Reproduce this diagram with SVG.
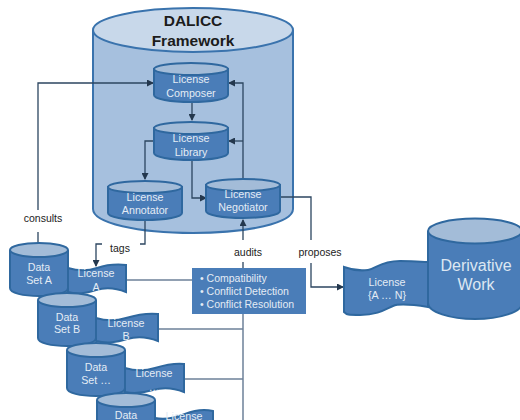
<svg xmlns="http://www.w3.org/2000/svg" width="520" height="420" viewBox="0 0 520 420">
<style>
.c{fill:#4a7db8;stroke:#2f689f;stroke-width:2}
.t{fill:#a3bcd8;stroke:#2f689f;stroke-width:2}
.w{fill:#e4ecf5;font-family:"Liberation Sans",Arial,sans-serif;font-size:10.7px;text-anchor:middle}
.b{fill:#e4ecf5;font-family:"Liberation Sans",Arial,sans-serif;font-size:10.5px}
.k{fill:#222;font-family:"Liberation Sans",Arial,sans-serif;font-size:10.5px;text-anchor:middle}
.h{fill:#1c1c1c;font-family:"Liberation Sans",Arial,sans-serif;font-size:15.5px;font-weight:bold;text-anchor:middle}
.d{fill:#dde7f2;font-family:"Liberation Sans",Arial,sans-serif;font-size:16px;text-anchor:middle}
.l{fill:none;stroke:#6e8199;stroke-width:1.5}
.a{fill:none;stroke:#2c4660;stroke-width:1.3}
</style>
<defs>
<marker id="ar" markerWidth="7" markerHeight="7" refX="6" refY="3.5" orient="auto" markerUnits="userSpaceOnUse"><path d="M0 0L7 3.5L0 7Z" fill="#24384e"/></marker>
</defs>
<rect width="520" height="420" fill="#fff"/>
<g id="framework">
<path d="M93 31V209C93 223 138 233 193 233S293 223 293 209V31Z" fill="#a6c0de" stroke="#3a73ad" stroke-width="2"/>
<ellipse cx="193" cy="30" rx="100" ry="22" fill="#c8d8ea" stroke="#3a73ad" stroke-width="2"/>
<text class="h" x="193" y="26">DALICC</text>
<text class="h" x="193" y="46">Framework</text>
</g>
<g id="connectors">
<path class="a" d="M38 243V232M38 210V83H153" marker-end="url(#ar)"/>
<path class="a" d="M192 102V120" marker-end="url(#ar)"/>
<path class="a" d="M243 178V83H229" marker-end="url(#ar)"/>
<path class="a" d="M243 141H229" marker-end="url(#ar)"/>
<path class="a" d="M154 141H145V179" marker-end="url(#ar)"/>
<path class="a" d="M192 160V198H206" marker-end="url(#ar)"/>
<path class="a" d="M145 220V244H140M102 244H96V266" marker-end="url(#ar)"/>
<path class="a" d="M243 268V262M243 240V220" marker-end="url(#ar)"/>
<path class="a" d="M280 197H311V240M311 263V287H343" marker-end="url(#ar)"/>
<path class="l" d="M126 280H192M158 329H243M184 379H243M243 314V420"/>
</g>
<g id="composer"><path class="c" d="M154 69V95C154 99 170 102 191 102S228 99 228 95V69Z"/><ellipse class="t" cx="191" cy="69" rx="37" ry="6"/><text class="w" x="191" y="83">License</text><text class="w" x="191" y="97">Composer</text></g>
<g id="library"><path class="c" d="M154 128V153C154 157 170 160 191 160S228 157 228 153V128Z"/><ellipse class="t" cx="191" cy="128" rx="37" ry="6"/><text class="w" x="191" y="142">License</text><text class="w" x="191" y="156">Library</text></g>
<g id="annotator"><path class="c" d="M108 187V213C108 217 124 220 145 220S182 217 182 213V187Z"/><ellipse class="t" cx="145" cy="187" rx="37" ry="6"/><text class="w" x="145" y="201">License</text><text class="w" x="145" y="214">Annotator</text></g>
<g id="negotiator"><path class="c" d="M206 185V211C206 215 222 218 243 218S280 215 280 211V185Z"/><ellipse class="t" cx="243" cy="185" rx="37" ry="6"/><text class="w" x="243" y="198">License</text><text class="w" x="243" y="211">Negotiator</text></g>
<g id="labels">
<text class="k" x="43" y="222">consults</text>
<text class="k" x="120" y="252">tags</text>
<text class="k" x="248" y="256">audits</text>
<text class="k" x="320" y="256">proposes</text>
</g>
<g id="license-a"><path class="c" d="M68 268C78 271 88 271 97 268S116 264 126 265V292C116 288 106 287 96 290S78 295 68 292Z"/><text class="w" x="96" y="277">License</text><text class="w" x="96" y="291">A</text></g>
<g id="dataset-a"><path class="c" d="M10 251V288C10 293 23 296 39 296S68 293 68 288V251Z"/><ellipse class="t" cx="39" cy="250" rx="29" ry="7"/><text class="w" x="39" y="271">Data</text><text class="w" x="39" y="284">Set A</text></g>
<g id="license-b"><path class="c" d="M96 318C106 321 116 321 126 318S148 313 158 314V341C148 337 137 336 127 339S108 344 96 341Z"/><text class="w" x="126" y="327">License</text><text class="w" x="126" y="340">B</text></g>
<g id="dataset-b"><path class="c" d="M38 301V338C38 343 51 346 67 346S96 343 96 338V301Z"/><ellipse class="t" cx="67" cy="300" rx="29" ry="7"/><text class="w" x="67" y="321">Data</text><text class="w" x="67" y="333">Set B</text></g>
<g id="license-c"><path class="c" d="M125 368C135 371 145 371 155 368S174 363 184 364V392C174 388 163 387 153 390S135 394 125 392Z"/><text class="w" x="154" y="377">License</text><text class="w" x="154" y="391">…</text></g>
<g id="dataset-c"><path class="c" d="M67 351V388C67 393 80 396 96 396S125 393 125 388V351Z"/><ellipse class="t" cx="96" cy="350" rx="29" ry="7"/><text class="w" x="96" y="371">Data</text><text class="w" x="96" y="384">Set …</text></g>
<g id="license-d"><path class="c" d="M155 418C165 420 175 418 185 414S204 409 213 411V422H155Z"/><text class="w" x="184" y="419.500">License</text></g>
<g id="dataset-d"><path class="c" d="M97 401V422H155V401Z"/><ellipse class="t" cx="126" cy="400" rx="29" ry="7"/><text class="w" x="126" y="419">Data</text></g>
<g id="features"><rect x="192" y="268" width="114" height="46" fill="#4a7db8"/>
<text class="b" x="200" y="282">• Compatibility</text>
<text class="b" x="200" y="295">• Conflict Detection</text>
<text class="b" x="200" y="308">• Conflict Resolution</text></g>
<g id="license-n"><path class="c" d="M344 267C352 270 360 271 368 270S380 261 400 261S420 262 428 262V307C415 305 400 303 393 306S378 315 360 315S348 314 344 312Z"/><text class="w" x="387" y="286">License</text><text class="w" x="387" y="299">{A … N}</text></g>
<g id="derivative"><path class="c" d="M428 232V303C428 312 450 319 475 319S522 312 522 303V232Z"/><ellipse class="t" cx="475" cy="231" rx="47" ry="12.500"/><text class="d" x="476" y="271">Derivative</text><text class="d" x="476" y="290">Work</text></g>
</svg>
